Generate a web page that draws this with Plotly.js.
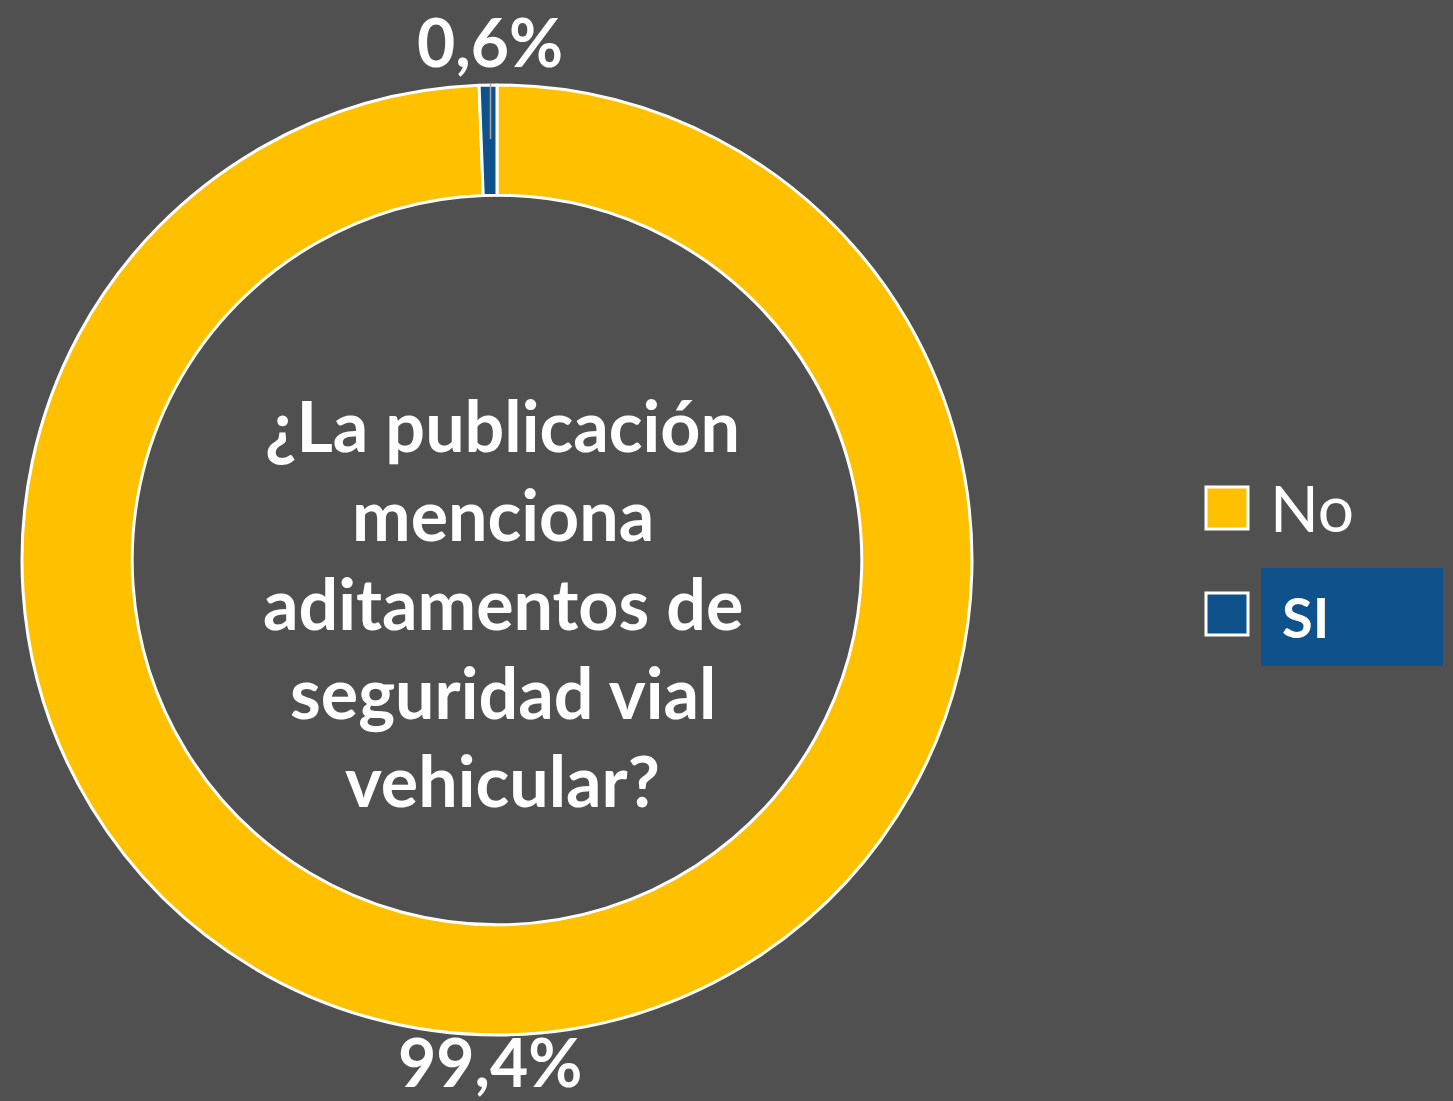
<!DOCTYPE html>
<html>
<head>
<meta charset="utf-8">
<script src="https://cdn.plot.ly/plotly-3.0.1.min.js"></script>
<style>html,body{margin:0;padding:0;background:#505050;}#chart{width:1453px;height:1101px;}</style>
</head>
<body>
<div id="chart"></div>
<script>
// ---- data ----
const categories = ["No", "SI"];
const values = [99.4, 0.6];
const colors = ["#FFC000", "#0F528B"];
const centerLines = ["¿La publicación", "menciona", "aditamentos de", "seguridad vial", "vehicular?"];

// ---- helpers (pixel -> paper) ----
const W = 1453, H = 1101;
const px = x => x / W;
const py = y => 1 - y / H;
const fmt = v => v.toFixed(1).replace('.', ',') + '%';

const cx = 497, cy = 560, R = 475;

const trace = {
  type: 'pie',
  labels: categories,
  values: values,
  sort: false,
  direction: 'clockwise',
  rotation: 0,
  hole: 0.768,
  textinfo: 'none',
  hoverinfo: 'label+percent',
  marker: { colors: colors, line: { color: '#FFFFFF', width: 3 } },
  domain: { x: [px(cx - R), px(cx + R)], y: [py(cy + R), py(cy - R)] },
  showlegend: false
};

const font = "Lato, 'Open Sans', sans-serif";
const annotations = [];
const lineCenters = [425, 514, 603, 692, 780];
centerLines.forEach((t, i) => {
  annotations.push({
    xref: 'paper', yref: 'paper', x: px(503), y: py(lineCenters[i]),
    xanchor: 'center', yanchor: 'middle', showarrow: false,
    text: '<b>' + t + '</b>', font: { family: font, size: 70, color: '#FFFFFF' }
  });
});
// data labels
annotations.push({
  xref: 'paper', yref: 'paper', x: px(490), y: 1, xanchor: 'center', yanchor: 'top',
  showarrow: false, text: '<b>' + fmt(values[1]) + '</b>', font: { family: font, size: 66, color: '#FFFFFF' }
});
annotations.push({
  xref: 'paper', yref: 'paper', x: px(490), y: py(1061), xanchor: 'center', yanchor: 'middle',
  showarrow: false, text: '<b>' + fmt(values[0]) + '</b>', font: { family: font, size: 66, color: '#FFFFFF' }
});
// legend texts
annotations.push({
  xref: 'paper', yref: 'paper', x: px(1268), y: py(508), xanchor: 'left', yanchor: 'middle',
  showarrow: false, text: categories[0], font: { family: font, size: 64, color: '#FFFFFF' }
});
annotations.push({
  xref: 'paper', yref: 'paper', x: px(1280), y: py(617), xanchor: 'left', yanchor: 'middle',
  showarrow: false, text: '<b>' + categories[1] + '</b>', font: { family: font, size: 56, color: '#FFFFFF' }
});

const shapes = [
  // SI label highlight box
  { type: 'rect', xref: 'paper', yref: 'paper', x0: px(1261), x1: px(1443), y0: py(666), y1: py(568),
    fillcolor: colors[1], line: { width: 0 }, layer: 'below' },
  // legend swatches
  { type: 'rect', xref: 'paper', yref: 'paper', x0: px(1206), x1: px(1248), y0: py(529), y1: py(487),
    fillcolor: colors[0], line: { color: '#FFFFFF', width: 3 } },
  { type: 'rect', xref: 'paper', yref: 'paper', x0: px(1206), x1: px(1248), y0: py(635), y1: py(593),
    fillcolor: colors[1], line: { color: '#FFFFFF', width: 3 } },
  // leader line
  { type: 'line', xref: 'paper', yref: 'paper', x0: px(490.5), x1: px(490.5), y0: py(84), y1: py(139),
    line: { color: '#A6A6A6', width: 1.5 } }
];

const layout = {
  width: W, height: H,
  margin: { l: 0, r: 0, t: 0, b: 0 },
  paper_bgcolor: '#505050',
  plot_bgcolor: '#505050',
  showlegend: false,
  annotations: annotations,
  shapes: shapes
};

Plotly.newPlot('chart', [trace], layout, { displayModeBar: false });
</script>
</body>
</html>
